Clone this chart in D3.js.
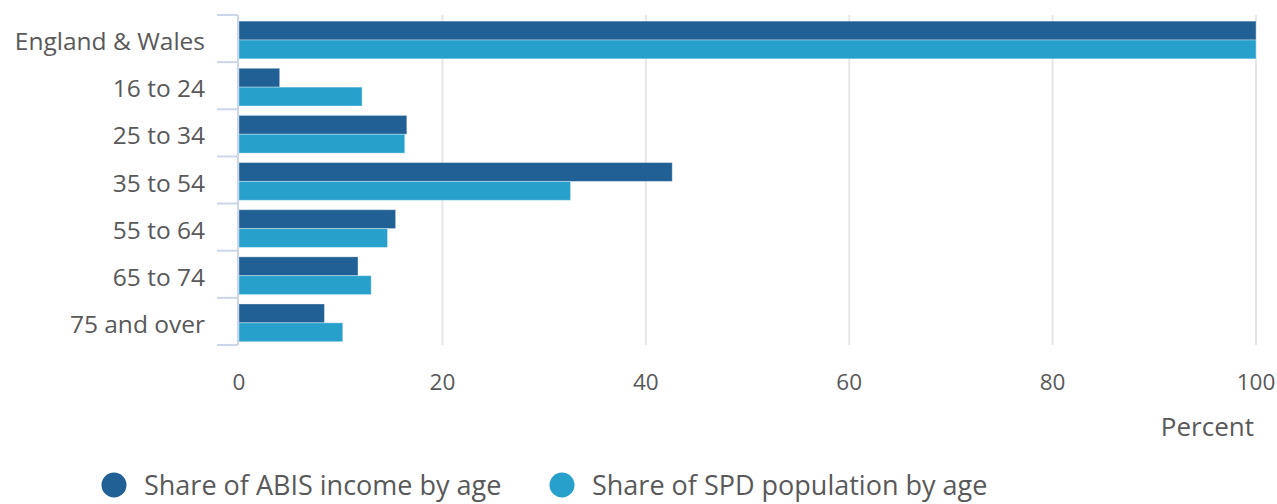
<!DOCTYPE html>
<html><head><meta charset="utf-8">
<script src="https://cdn.jsdelivr.net/npm/d3@7"></script>
<style>body{margin:0;background:#fff;}svg{display:block;font-family:"Open Sans",sans-serif;}</style>
</head><body><svg id="c" width="1277" height="504"></svg>
<script>
const categories = ["England & Wales","16 to 24","25 to 34","35 to 54","55 to 64","65 to 74","75 and over"];
const seriesNames = ["Share of ABIS income by age","Share of SPD population by age"];
const abisIncome = [100, 4.0, 16.5, 42.6, 15.4, 11.7, 8.4];
const spdPopulation = [100, 12.1, 16.3, 32.6, 14.6, 13.0, 10.2];
const xTicks = [0,20,40,60,80,100];
const colors = ["#206095","#27a0cc"];

const svg = d3.select("#c");
const x = d3.scaleLinear().domain([0,100]).range([239,1256]);
const y = d3.scaleBand().domain(categories).range([15,345]).paddingInner(0).paddingOuter(0);
const inner = d3.scaleBand().domain([0,1]).range([0.13,0.93]);

// gridlines
svg.append("g").selectAll("line").data(xTicks.slice(1)).join("line")
  .attr("x1",d=>x(d)).attr("x2",d=>x(d)).attr("y1",15).attr("y2",345)
  .attr("stroke","#e6e6e6").attr("stroke-width",2);

// bars
const series = [abisIncome, spdPopulation];
const g = svg.append("g");
series.forEach((vals,si)=>{
  g.selectAll(null).data(vals).join("rect")
    .attr("x",x(0))
    .attr("y",(d,i)=>y(categories[i]) + inner(si)*y.bandwidth())
    .attr("width",d=>x(d)-x(0))
    .attr("height",inner.bandwidth()*y.bandwidth())
    .attr("fill",colors[si])
    .attr("stroke","rgba(255,255,255,0.35)").attr("stroke-width",1);
});

// y axis line and ticks
const axisColor = "#ccd6eb";
svg.append("line").attr("x1",238).attr("x2",238).attr("y1",15).attr("y2",345)
  .attr("stroke",axisColor).attr("stroke-width",2);
const bounds = categories.map(c=>y(c)).concat([y.range()[1]]);
svg.append("g").selectAll("line").data(bounds).join("line")
  .attr("x1",217).attr("x2",238).attr("y1",d=>d).attr("y2",d=>d)
  .attr("stroke",axisColor).attr("stroke-width",2);

// category labels
svg.append("g").selectAll("text").data(categories).join("text")
  .attr("x",205).attr("y",c=>y(c)+y.bandwidth()/2 + 11.5)
  .attr("text-anchor","end")
  .attr("font-size",24.5).attr("fill","#595959").text(d=>d);

// x tick labels
svg.append("g").selectAll("text").data(xTicks).join("text")
  .attr("x",d=>x(d)).attr("y",390).attr("text-anchor","middle")
  .attr("font-size",22.5).attr("fill","#595959").text(d=>d);

svg.append("text").attr("x",1254).attr("y",436).attr("text-anchor","end")
  .attr("font-size",26).attr("fill","#595959").text("Percent");

// legend
const legX = [114, 562];
const leg = svg.append("g").selectAll("g").data(seriesNames).join("g")
  .attr("transform",(d,i)=>`translate(${legX[i]},485)`);
leg.append("circle").attr("r",12.5).attr("fill",(d,i)=>colors[i]);
leg.append("text").attr("x",30).attr("y",10).attr("font-size",27)
  .attr("fill","#595959").text(d=>d);
</script></body></html>
